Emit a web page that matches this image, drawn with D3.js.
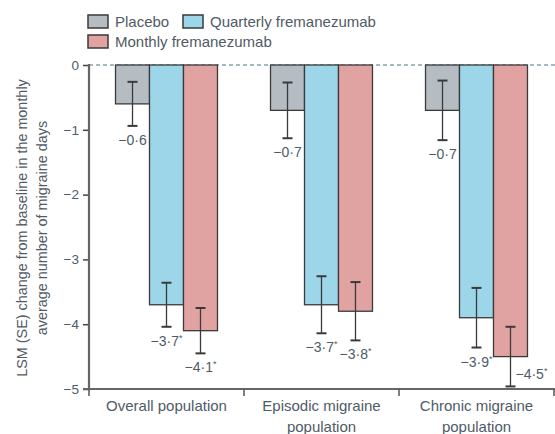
<!DOCTYPE html>
<html><head><meta charset="utf-8">
<script src="https://cdn.jsdelivr.net/npm/d3@7/dist/d3.min.js"></script>
<style>body{margin:0;background:#fff}svg{display:block}text{font-family:"Liberation Sans",Arial,sans-serif}</style>
</head><body><svg id="c" width="555" height="434"></svg>
<script>
const categories = [["Overall population"], ["Episodic migraine", "population"], ["Chronic migraine", "population"]];
const series = ["Placebo", "Quarterly fremanezumab", "Monthly fremanezumab"];
const placebo = [-0.6, -0.7, -0.7];
const quarterly = [-3.7, -3.7, -3.9];
const monthly = [-4.1, -3.8, -4.5];
const placeboErr = [0.34, 0.43, 0.46];
const quarterlyErr = [0.34, 0.44, 0.46];
const monthlyErr = [0.35, 0.45, 0.46];
const significant = [false, true, true];
const yTicks = [0, -1, -2, -3, -4, -5];
const yLabel = ["LSM (SE) change from baseline in the monthly", "average number of migraine days"];

const colors = ["#b5bdc3", "#9dd6e9", "#e1a3a1"];
const textCol = "#4f5b66";
const values = [placebo, quarterly, monthly];
const errs = [placeboErr, quarterlyErr, monthlyErr];

const svg = d3.select("#c");
const mLeft = 89, mRight = 554, mTop = 65, mBottom = 389;
const y = d3.scaleLinear().domain([0, -5]).range([mTop, mBottom]);
const x0 = d3.scaleBand().domain(d3.range(categories.length)).range([mLeft, mRight]).padding(0);
const x1 = d3.scaleBand().domain(d3.range(series.length)).range([0, x0.bandwidth()]).paddingInner(0).paddingOuter(0.78);

// dashed zero line
svg.append("line").attr("x1", mLeft).attr("x2", 555).attr("y1", y(0)).attr("y2", y(0))
  .attr("stroke", "#4d7480").attr("stroke-width", 1.2).attr("stroke-dasharray", "4,3");

// bars
const g = svg.append("g");
categories.forEach((c, ci) => {
  series.forEach((s, si) => {
    const v = values[si][ci];
    const bx = x0(ci) + x1(si);
    g.append("rect").attr("x", bx).attr("y", y(0)).attr("width", x1.bandwidth()).attr("height", y(v) - y(0))
      .attr("fill", colors[si]).attr("stroke", "#3a3a3a").attr("stroke-width", 1.3);
  });
});
// error bars and labels
categories.forEach((c, ci) => {
  series.forEach((s, si) => {
    const v = values[si][ci], e = errs[si][ci];
    const cx = x0(ci) + x1(si) + x1.bandwidth() / 2;
    const y1 = y(v + e), y2 = y(v - e);
    const eg = g.append("g").attr("stroke", "#3a3a3a").attr("stroke-width", 1.3);
    eg.append("line").attr("x1", cx).attr("x2", cx).attr("y1", y1).attr("y2", y2);
    eg.append("line").attr("x1", cx - 5).attr("x2", cx + 5).attr("y1", y1).attr("y2", y1).attr("stroke-width", 2);
    eg.append("line").attr("x1", cx - 5).attr("x2", cx + 5).attr("y1", y2).attr("y2", y2).attr("stroke-width", 2);
    const txt = "\u2212" + Math.abs(v).toFixed(1).replace(".", "\u00b7");
    let lx = cx, ly = y2 + 19, anchor = "middle";
    if (ly > mBottom - 4) { lx = cx + 5; ly = y(v) + 22; anchor = "start"; }
    const t = g.append("text").attr("x", lx).attr("y", ly).attr("text-anchor", anchor)
      .attr("font-size", 14).attr("fill", textCol).text(txt);
    if (significant[si]) t.append("tspan").attr("font-size", 9).attr("dy", -5).text("*");
  });
});

// y axis
const ya = svg.append("g").attr("transform", `translate(${mLeft},0)`)
  .call(d3.axisLeft(y).tickValues(yTicks).tickSize(6).tickPadding(4)
    .tickFormat(d => d === 0 ? "0" : "\u2212" + Math.abs(d)));
ya.select(".domain").remove();
ya.selectAll(".tick line").attr("stroke", "#444").attr("stroke-width", 1.5);
ya.selectAll("text").attr("font-size", 13.5).attr("fill", textCol).attr("font-family", "Liberation Sans, Arial, sans-serif");
svg.append("line").attr("x1", mLeft).attr("x2", mLeft).attr("y1", mTop - 1).attr("y2", mBottom + 1)
  .attr("stroke", "#666").attr("stroke-width", 2.2);

// x axis
const xa = svg.append("g").attr("transform", `translate(0,${mBottom})`);
xa.append("line").attr("x1", mLeft - 6).attr("x2", 555).attr("y1", 0).attr("y2", 0).attr("stroke", "#666").attr("stroke-width", 2.2);
d3.range(categories.length + 1).forEach(i => {
  const xx = i < categories.length ? x0(i) : x0(i - 1) + x0.bandwidth();
  xa.append("line").attr("x1", xx).attr("x2", xx).attr("y1", 0).attr("y2", 7).attr("stroke", "#555").attr("stroke-width", 1.5);
});
categories.forEach((c, ci) => {
  const t = xa.append("text").attr("x", x0(ci) + x0.bandwidth() / 2).attr("y", 22)
    .attr("text-anchor", "middle").attr("font-size", 15).attr("fill", textCol);
  c.forEach((line, li) => t.append("tspan").attr("x", x0(ci) + x0.bandwidth() / 2).attr("dy", li === 0 ? 0 : 21).text(line));
});

// y label
const yl = svg.append("text").attr("transform", `translate(0,228) rotate(-90)`).attr("text-anchor", "middle")
  .attr("font-size", 14.4).attr("fill", textCol);
yLabel.forEach((l, i) => yl.append("tspan").attr("x", 0).attr("y", 27 + i * 20).text(l));

// legend
const legendPos = [[88, 22], [183, 22], [88, 42]];
series.forEach((s, si) => {
  const [lx, ly] = legendPos[si];
  svg.append("rect").attr("x", lx).attr("y", ly - 7).attr("width", 20).attr("height", 13)
    .attr("fill", colors[si]).attr("stroke", "#3a3a3a").attr("stroke-width", 1.5);
  svg.append("text").attr("x", lx + 27).attr("y", ly + 5).attr("font-size", 15).attr("fill", textCol).text(s);
});
</script></body></html>
